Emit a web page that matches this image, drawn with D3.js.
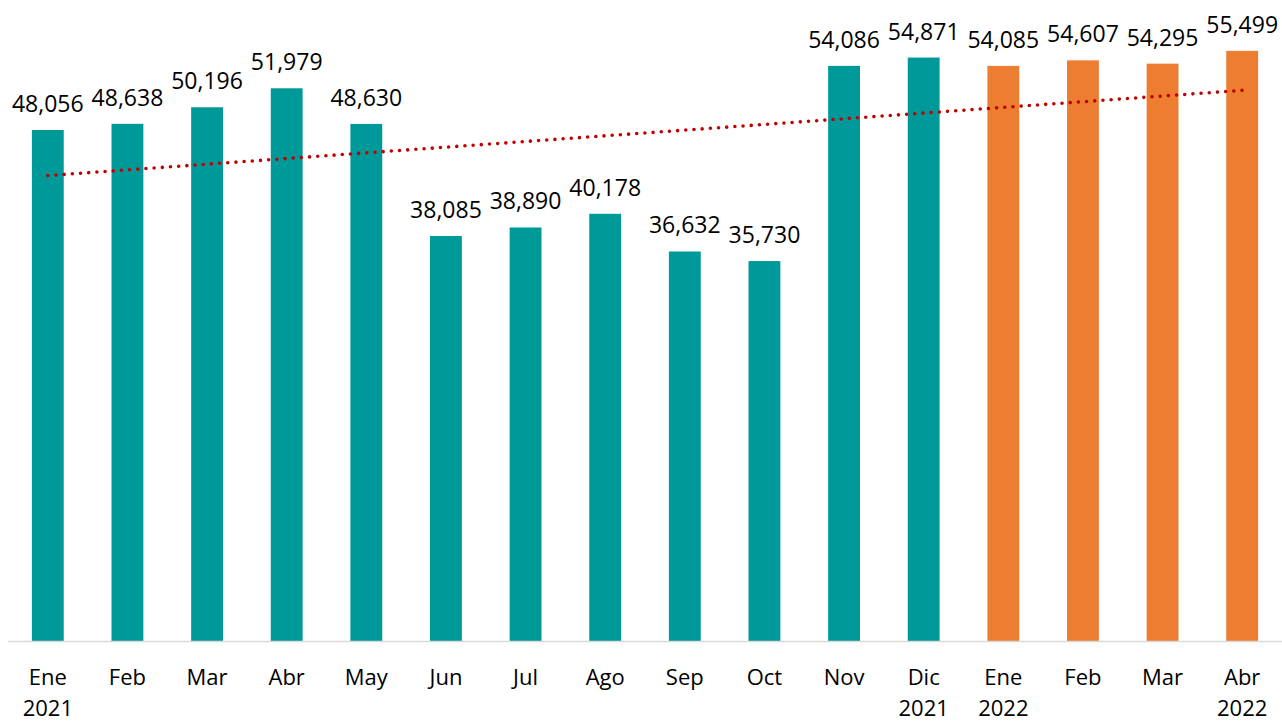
<!DOCTYPE html>
<html><head><meta charset="utf-8">
<script src="https://cdn.jsdelivr.net/npm/d3@7"></script>
<style>body{margin:0;background:#fff;} svg{display:block;}</style>
</head><body>
<svg id="c" width="1282" height="722"></svg>
<script>
const months = ["Ene","Feb","Mar","Abr","May","Jun","Jul","Ago","Sep","Oct","Nov","Dic","Ene","Feb","Mar","Abr"];
const years  = ["2021","","","","","","","","","","","2021","2022","","","2022"];
const values = [48056,48638,50196,51979,48630,38085,38890,40178,36632,35730,54086,54871,54085,54607,54295,55499];
const yearOf = [2021,2021,2021,2021,2021,2021,2021,2021,2021,2021,2021,2021,2022,2022,2022,2022];
const colors = {2021:"#009999", 2022:"#ED7D31"};

const svg = d3.select("#c");
const font = "'Open Sans', sans-serif";
const idx = d3.range(values.length);
const x = d3.scaleBand().domain(idx).range([8,1282]).paddingInner(0.6).paddingOuter(0.3);
const y = d3.scaleLinear().domain([0,60000]).range([641,3]);

svg.selectAll("rect.bar").data(idx).join("rect")
  .attr("x", i=>x(i)).attr("width", x.bandwidth())
  .attr("y", i=>y(values[i])).attr("height", i=>y(0)-y(values[i]))
  .attr("fill", i=>colors[yearOf[i]]);

// axis line
svg.append("line").attr("x1",8).attr("x2",1282).attr("y1",y(0)+0.5).attr("y2",y(0)+0.5)
  .attr("stroke","#d9d9d9").attr("stroke-width",1.5);

// linear trend
const mx = d3.mean(idx), my = d3.mean(values);
const slope = d3.sum(idx, i=>(i-mx)*(values[i]-my)) / d3.sum(idx, i=>(i-mx)*(i-mx));
const icpt = my - slope*mx;
const cx = i => x(i)+x.bandwidth()/2;
svg.append("line")
  .attr("x1", cx(0)).attr("y1", y(icpt))
  .attr("x2", cx(values.length-1)).attr("y2", y(icpt+slope*(values.length-1)))
  .attr("stroke","#C00000").attr("stroke-width",3.6).attr("stroke-linecap","round")
  .attr("stroke-dasharray","0 8.2");

// value labels
svg.selectAll("text.val").data(idx).join("text")
  .attr("x", cx).attr("y", i=>y(values[i])-18)
  .attr("text-anchor","middle").attr("font-family",font).attr("font-size",23)
  .attr("fill","#000").text(i=>d3.format(",")(values[i]));

// category labels
const g = svg.append("g");
idx.forEach(i=>{
  g.append("text").attr("x",cx(i)).attr("y",685).attr("text-anchor","middle")
    .attr("font-family",font).attr("font-size",22).attr("fill","#000").text(months[i]);
  if (years[i]) g.append("text").attr("x",cx(i)).attr("y",716).attr("text-anchor","middle")
    .attr("font-family",font).attr("font-size",22).attr("fill","#000").text(years[i]);
});
</script>
</body></html>
